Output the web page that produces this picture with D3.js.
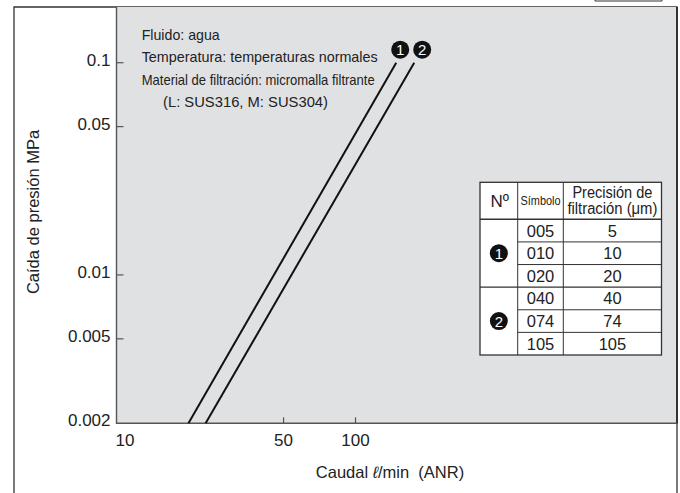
<!DOCTYPE html>
<html>
<head>
<meta charset="utf-8">
<script src="https://cdn.jsdelivr.net/npm/d3@7"></script>
<style>
  body { margin: 0; background: #fff; }
  svg { display: block; font-family: "Liberation Sans", Arial, Helvetica, sans-serif; }
</style>
</head>
<body>
<svg id="chart" width="680" height="493"></svg>
<script>
// data
var curveIds = [1, 2];
var curveFlow = [[20, 148], [23.6, 176]];       // l/min at the two ends of each line
var curvePressure = [[0.002, 0.1], [0.002, 0.1]]; // MPa
var xTickValues = [10, 50, 100];
var yTickValues = [0.1, 0.05, 0.01, 0.005, 0.002];
var yTickLabels = ['0.1', '0.05', '0.01', '0.005', '0.002'];
var notes = [
    'Fluido: agua',
    'Temperatura: temperaturas normales',
    'Material de filtración: micromalla filtrante',
    '(L: SUS316, M: SUS304)'
];
var tableSymbols = ['005', '010', '020', '040', '074', '105'];
var tablePrecision = [5, 10, 20, 40, 74, 105];
var tableGroups = [1, 1, 1, 2, 2, 2];

var svg = d3.select('#chart');
var frameColor = '#333';
var axisColor = '#555';

// plot area
var plot = {l: 116.5, r: 677, t: 7, b: 423.3};

var xScale = d3.scaleLog().domain([10, 2213]).range([plot.l, plot.r]);
var yScale = d3.scaleLog().domain([0.002, 0.1]).range([plot.b, 62.7]);

// outer frame
svg.append('path')
    .attr('d', 'M14,493V7H677V493')
    .attr('fill', 'none').attr('stroke', frameColor).attr('stroke-width', 1.3);
// little tab at the top right
svg.append('path')
    .attr('d', 'M595,0V1H662V0')
    .attr('fill', 'none').attr('stroke', frameColor).attr('stroke-width', 1);

// grey plot background
svg.append('rect')
    .attr('x', plot.l).attr('y', plot.t)
    .attr('width', plot.r - plot.l).attr('height', plot.b - plot.t)
    .attr('fill', '#e0e1e2');
svg.append('path')
    .attr('d', 'M' + plot.l + ',' + plot.t + 'V' + plot.b + 'H' + plot.r)
    .attr('fill', 'none').attr('stroke', axisColor).attr('stroke-width', 1.4);
svg.append('line')
    .attr('x1', plot.r).attr('x2', plot.r).attr('y1', plot.t).attr('y2', plot.b)
    .attr('stroke', frameColor).attr('stroke-width', 2);

// y axis: inward ticks, labels on the left
var yTicks = svg.append('g');
yTicks.selectAll('line')
    .data(yTickValues.slice(0, 4))
    .enter().append('line')
    .attr('x1', plot.l).attr('x2', plot.l + 7)
    .attr('y1', function(d) { return yScale(d); })
    .attr('y2', function(d) { return yScale(d); })
    .attr('stroke', axisColor).attr('stroke-width', 1.2);
yTicks.selectAll('text')
    .data(yTickValues)
    .enter().append('text')
    .attr('x', plot.l - 6)
    .attr('y', function(d) { return yScale(d) + 3; })
    .attr('text-anchor', 'end')
    .attr('font-size', 17)
    .attr('fill', '#222')
    .text(function(d, i) { return yTickLabels[i]; });

// x axis: inward ticks for 50 and 100
var xTicks = svg.append('g');
xTicks.selectAll('line')
    .data(xTickValues.slice(1))
    .enter().append('line')
    .attr('x1', function(d) { return xScale(d); })
    .attr('x2', function(d) { return xScale(d); })
    .attr('y1', plot.b).attr('y2', plot.b - 6)
    .attr('stroke', axisColor).attr('stroke-width', 1.2);
xTicks.selectAll('text')
    .data(xTickValues)
    .enter().append('text')
    .attr('x', function(d, i) { return xScale(d) + (i == 0 ? 8.5 : 0); })
    .attr('y', plot.b + 23)
    .attr('text-anchor', 'middle')
    .attr('font-size', 17)
    .attr('fill', '#222')
    .text(function(d) { return d; });

// axis titles
svg.append('text')
    .attr('transform', 'translate(39,212) rotate(-90)')
    .attr('text-anchor', 'middle')
    .attr('font-size', 16.5)
    .attr('fill', '#222')
    .text('Caída de presión MPa');
svg.append('text')
    .attr('x', 390).attr('y', 478)
    .attr('text-anchor', 'middle')
    .attr('font-size', 16.5)
    .attr('fill', '#222')
    .html('Caudal <tspan font-style="italic">ℓ</tspan>/min  (ANR)')
    .attr('xml:space', 'preserve');

// pressure drop lines
var line = d3.line()
    .x(function(d) { return xScale(d[0]); })
    .y(function(d) { return yScale(d[1]); });
svg.selectAll('.curve')
    .data(curveIds)
    .enter().append('path')
    .attr('class', 'curve')
    .attr('d', function(d, i) {
        return line(curveFlow[i].map(function(q, j) { return [q, curvePressure[i][j]]; }));
    })
    .attr('fill', 'none').attr('stroke', '#111').attr('stroke-width', 2);

// numbered markers
function marker(g, cx, cy, n) {
    g.append('circle').attr('cx', cx).attr('cy', cy).attr('r', 9).attr('fill', '#111');
    g.append('text').attr('x', cx).attr('y', cy + 5.5)
        .attr('text-anchor', 'middle').attr('font-size', 15).attr('fill', '#fff')
        .text(n);
}
var markerG = svg.append('g');
curveIds.forEach(function(id, i) {
    marker(markerG, xScale(curveFlow[i][1]) + 4 + i * 4, yScale(curvePressure[i][1]) - 13, id);
});

// notes
var noteWidths = [78, 236, 233, 165];
var noteX = [141.7, 141.7, 141.7, 163];
svg.append('g').selectAll('text')
    .data(notes)
    .enter().append('text')
    .attr('x', function(d, i) { return noteX[i]; })
    .attr('y', function(d, i) { return 40 + i * 22.3; })
    .attr('font-size', 15)
    .attr('fill', '#222')
    .attr('textLength', function(d, i) { return noteWidths[i]; })
    .attr('lengthAdjust', 'spacingAndGlyphs')
    .text(function(d) { return d; });

// table
var tb = {l: 480, c1: 517.7, c2: 563.3, r: 661.5, t: 182.3, h: 219.3, b: 355};
var rowY = d3.scaleLinear().domain([0, tableSymbols.length]).range([tb.h, tb.b]);
var tg = svg.append('g');
tg.append('rect')
    .attr('x', tb.l).attr('y', tb.t).attr('width', tb.r - tb.l).attr('height', tb.b - tb.t)
    .attr('fill', '#fff').attr('stroke', frameColor).attr('stroke-width', 1.3);
tg.selectAll('.vline')
    .data([tb.c1, tb.c2])
    .enter().append('line')
    .attr('x1', function(d) { return d; }).attr('x2', function(d) { return d; })
    .attr('y1', tb.t).attr('y2', tb.b)
    .attr('stroke', frameColor).attr('stroke-width', 1);
tg.selectAll('.hline')
    .data(d3.range(0, tableSymbols.length))
    .enter().append('line')
    .attr('x1', function(d) { return (d == 0 || tableGroups[d] != tableGroups[d - 1]) ? tb.l : tb.c1; })
    .attr('x2', tb.r)
    .attr('y1', function(d) { return rowY(d); }).attr('y2', function(d) { return rowY(d); })
    .attr('stroke', frameColor)
    .attr('stroke-width', function(d) { return (d == 0 || tableGroups[d] != tableGroups[d - 1]) ? 1.4 : 1; });

// header
tg.append('text').attr('x', (tb.l + tb.c1) / 2 + 1).attr('y', 207)
    .attr('text-anchor', 'middle').attr('font-size', 17).attr('fill', '#222').text('Nº');
tg.append('text').attr('x', (tb.c1 + tb.c2) / 2).attr('y', 205)
    .attr('text-anchor', 'middle').attr('font-size', 13).attr('fill', '#222')
    .attr('textLength', 40).attr('lengthAdjust', 'spacingAndGlyphs').text('Símbolo');
tg.append('text').attr('x', (tb.c2 + tb.r) / 2).attr('y', 198)
    .attr('text-anchor', 'middle').attr('font-size', 16).attr('fill', '#222')
    .attr('textLength', 80).attr('lengthAdjust', 'spacingAndGlyphs').text('Precisión de');
tg.append('text').attr('x', (tb.c2 + tb.r) / 2).attr('y', 214)
    .attr('text-anchor', 'middle').attr('font-size', 16).attr('fill', '#222')
    .attr('textLength', 90).attr('lengthAdjust', 'spacingAndGlyphs').text('filtración (μm)');

// body rows
tg.selectAll('.sym')
    .data(tableSymbols)
    .enter().append('text')
    .attr('x', (tb.c1 + tb.c2) / 2)
    .attr('y', function(d, i) { return rowY(i + 0.5) + 6; })
    .attr('text-anchor', 'middle').attr('font-size', 16.5).attr('fill', '#222')
    .text(function(d) { return d; });
tg.selectAll('.prec')
    .data(tablePrecision)
    .enter().append('text')
    .attr('x', (tb.c2 + tb.r) / 2)
    .attr('y', function(d, i) { return rowY(i + 0.5) + 6; })
    .attr('text-anchor', 'middle').attr('font-size', 16.5).attr('fill', '#222')
    .text(function(d) { return d; });

// group markers in the Nº column
curveIds.forEach(function(id) {
    var rows = d3.range(tableGroups.length).filter(function(i) { return tableGroups[i] == id; });
    var cy = (rowY(rows[0]) + rowY(rows[rows.length - 1] + 1)) / 2;
    marker(tg, (tb.l + tb.c1) / 2, cy, id);
});
</script>
</body>
</html>
